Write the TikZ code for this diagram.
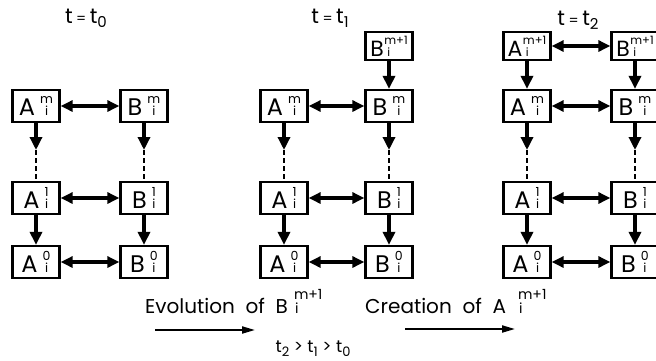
\documentclass[tikz,border=0pt]{standalone}
\usepackage{fontspec}
\setmainfont{Poppins}
\usetikzlibrary{arrows.meta}
\newcommand{\bxl}[3]{{\fontsize{24}{24}\selectfont #1}\hspace{5pt}{\fontsize{12.5}{12.5}\selectfont\shortstack{#2\\#3}}}
\newcommand{\bxt}[1]{{\fontsize{22}{22}\selectfont #1}\hspace{0.5pt}{\fontsize{11.5}{11.5}\selectfont\shortstack[l]{m+1\\\hspace{3pt}i}}}
\newcommand{\tsub}[2]{t\raisebox{-4pt}{\fontsize{#2}{#2}\selectfont #1}}
\tikzset{
  box/.style={draw, line width=2.3pt, minimum width=47pt, minimum height=32pt, inner sep=0pt},
  topbox/.style={box, minimum height=28pt},
  varr/.style={line width=4.5pt, -{Triangle[length=13pt,width=12pt]}},
  harr/.style={line width=4pt, {Triangle[length=12pt,width=11pt]}-{Triangle[length=12pt,width=11pt]}},
  dashln/.style={line width=1.8pt, dash pattern=on 5pt off 3pt},
  evarr/.style={line width=2pt, -{Triangle[length=13pt,width=7pt]}},
  title/.style={font=\fontsize{21}{21}\selectfont},
  lab/.style={font=\fontsize{20}{20}\selectfont, anchor=base west, inner sep=0pt}
}
\begin{document}
\begin{tikzpicture}[x=1pt,y=-1pt]
\useasboundingbox (0,0) rectangle (656,360);
% titles
\node[title] (t0) at (86,18) {t\,{\fontsize{14}{14}\selectfont =}\,\tsub{0}{15}};
\node[title] (t1) at (330,18) {t\,{\fontsize{14}{14}\selectfont =}\,\tsub{1}{15}};
\node[title] (t2) at (578,20) {t\,{\fontsize{14}{14}\selectfont =}\,\tsub{2}{15}};
% column 1
\node[box] (a1m) at (36,106) {\bxl{A}{m}{i}};
\node[box] (b1m) at (144,106) {\bxl{B}{m}{i}};
\node[box] (a11) at (36,198) {\bxl{A}{1}{i}};
\node[box] (b11) at (144,198) {\bxl{B}{1}{i}};
\node[box] (a10) at (36,262) {\bxl{A}{0}{i}};
\node[box] (b10) at (144,262) {\bxl{B}{0}{i}};
\coordinate (da1) at (36,150);
\coordinate (db1) at (144,150);
\draw[harr] (a1m) -- (b1m);
\draw[harr] (a11) -- (b11);
\draw[harr] (a10) -- (b10);
\draw[varr] (a1m) -- (da1);
\draw[varr] (b1m) -- (db1);
\draw[dashln] (da1) -- (a11);
\draw[dashln] (db1) -- (b11);
\draw[varr] (a11) -- (a10);
\draw[varr] (b11) -- (b10);
% column 2
\node[topbox] (b2t) at (389,46) {\bxt{B}};
\node[box] (a2m) at (284,106) {\bxl{A}{m}{i}};
\node[box] (b2m) at (389,106) {\bxl{B}{m}{i}};
\node[box] (a21) at (284,198) {\bxl{A}{1}{i}};
\node[box] (b21) at (389,198) {\bxl{B}{1}{i}};
\node[box] (a20) at (284,262) {\bxl{A}{0}{i}};
\node[box] (b20) at (389,262) {\bxl{B}{0}{i}};
\coordinate (da2) at (284,150);
\coordinate (db2) at (389,150);
\draw[varr] (b2t) -- (b2m);
\draw[harr] (a2m) -- (b2m);
\draw[harr] (a21) -- (b21);
\draw[harr] (a20) -- (b20);
\draw[varr] (a2m) -- (da2);
\draw[varr] (b2m) -- (db2);
\draw[dashln] (da2) -- (a21);
\draw[dashln] (db2) -- (b21);
\draw[varr] (a21) -- (a20);
\draw[varr] (b21) -- (b20);
% column 3
\begin{scope}[every node/.append style={minimum width=50pt}]
\node[topbox] (a3t) at (527,46) {\bxt{A}};
\node[box] (a3m) at (527,106) {\bxl{A}{m}{i}};
\node[box] (a31) at (527,198) {\bxl{A}{1}{i}};
\node[box] (a30) at (527,262) {\bxl{A}{0}{i}};
\end{scope}
\begin{scope}[every node/.append style={minimum width=44pt}]
\node[topbox] (b3t) at (635,46) {\bxt{B}};
\node[box] (b3m) at (635,106) {\bxl{B}{m}{i}};
\node[box] (b31) at (635,198) {\bxl{B}{1}{i}};
\node[box] (b30) at (635,262) {\bxl{B}{0}{i}};
\end{scope}
\coordinate (da3) at (527,150);
\coordinate (db3) at (635,150);
\draw[harr] (a3t) -- (b3t);
\draw[varr] (a3t) -- (a3m);
\draw[varr] (b3t) -- (b3m);
\draw[harr] (a3m) -- (b3m);
\draw[harr] (a31) -- (b31);
\draw[harr] (a30) -- (b30);
\draw[varr] (a3m) -- (da3);
\draw[varr] (b3m) -- (db3);
\draw[dashln] (da3) -- (a31);
\draw[dashln] (db3) -- (b31);
\draw[varr] (a31) -- (a30);
\draw[varr] (b31) -- (b30);
% bottom
\node[lab] (evo) at (145,313) {Evolution\ \ of\ \ B\hspace{6pt}{\fontsize{14}{14}\selectfont\shortstack[l]{m+1\\\hspace{1pt}i}}};
\node[lab] (cre) at (365,313) {Creation\ \ of\ \ A\hspace{12pt}{\fontsize{14}{14}\selectfont\shortstack[l]{m+1\\\hspace{1pt}i}}};
\coordinate (e1s) at (155,330);
\coordinate (e1e) at (255,330);
\coordinate (e2s) at (405,329);
\coordinate (e2e) at (515,329);
\draw[evarr] (e1s) -- (e1e);
\draw[evarr] (e2s) -- (e2e);
\node[font=\fontsize{17}{17}\selectfont] (ineq) at (313,349) {\tsub{2}{13} > \tsub{1}{13} > \tsub{0}{13}};
\end{tikzpicture}
\end{document}
